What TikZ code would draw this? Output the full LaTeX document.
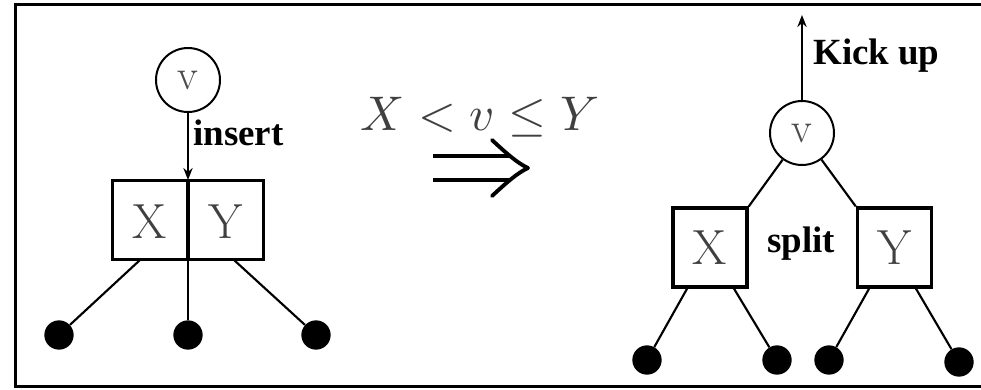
\documentclass[tikz,border=0pt]{standalone}
\usepackage{fontspec}
\newfontfamily\lbl{Liberation Serif}
\usetikzlibrary{arrows.meta}
\begin{document}
\begin{tikzpicture}[x=0.75pt,y=-0.75pt,
  conn/.style={line width=1.6pt},
  keybox/.style={draw,line width=2.6pt,minimum width=55.5pt,minimum height=59pt,inner sep=0pt,text=black!75,font=\fontsize{37}{37}\selectfont},
  vnode/.style={draw,circle,line width=1.5pt,minimum size=48pt,inner sep=0pt,text=black!70,font=\fontsize{32}{32}\selectfont},
  leaf/.style={circle,fill=black,minimum size=22pt,inner sep=0pt},
  lab/.style={font=\lbl\bfseries\fontsize{27.7}{28}\selectfont,inner sep=0pt},
  arr/.style={conn,-{Stealth[length=9pt,width=7pt]}},
  bigarrow/.style={line width=2.9pt}]
\useasboundingbox (0,0) rectangle (981,389);
\begin{scope}
\clip (0,0) rectangle (981,389);
\draw[line width=2.6pt] (15.5,4.5) rectangle (990,386.5);
\end{scope}
% left tree
\node[vnode] (v1) at (188,80) {v};
\node[keybox,minimum width=113pt] (b1) at (188,220) {};
\node[text=black!75,font=\fontsize{37}{37}\selectfont] (x1) at (150,222) {X};
\node[text=black!75,font=\fontsize{37}{37}\selectfont] (y1) at (226,222) {Y};
\coordinate (b1t) at (188,180);
\coordinate (b1b) at (188,260);
\draw[line width=2.6pt] (b1t) -- (b1b);
\draw[arr] (v1) -- (b1t);
\node[lab,anchor=west] (ins) at (193,133) {insert};
\node[leaf] (l1) at (59,335) {};
\node[leaf] (l2) at (188,335) {};
\node[leaf] (l3) at (316,335) {};
\coordinate (b1a) at (140,260);
\coordinate (b1c) at (234,260);
\draw[conn] (b1a) -- (l1);
\draw[conn] (b1b) -- (l2);
\draw[conn] (b1c) -- (l3);
% middle
\node[text=black!75,inner sep=0pt] (cond) at (480,117) {\scalebox{3.65}{$X<v\le Y$}};
\draw[bigarrow] (433,156) -- (510,156);
\draw[bigarrow] (433,180) -- (510,180);
\draw[bigarrow,line cap=round,line join=round] (492,140) .. controls (505,152) and (517,163) .. (528,168) .. controls (517,173) and (505,184) .. (492,196);
% right tree
\node[vnode] (v2) at (802,133) {v};
\coordinate (top) at (802,15);
\draw[arr] (v2) -- (top);
\node[lab,anchor=west] (kick) at (813,56) {Kick up};
\node[keybox] (bx) at (710,247.5) {X};
\node[keybox] (by) at (894.5,247.5) {Y};
\node[lab] (split) at (801,244) {split};
\draw[conn] (v2) -- (bx.north east);
\draw[conn] (v2) -- (by.north west);
\node[leaf] (r1) at (647,360) {};
\node[leaf] (r2) at (777,360) {};
\node[leaf] (r3) at (829,360) {};
\node[leaf] (r4) at (959,362) {};
\coordinate (bxa) at (688,287);
\coordinate (bxb) at (733,287);
\coordinate (bya) at (870,287);
\coordinate (byb) at (915,287);
\draw[conn] (bxa) -- (r1);
\draw[conn] (bxb) -- (r2);
\draw[conn] (bya) -- (r3);
\draw[conn] (byb) -- (r4);
\end{tikzpicture}
\end{document}
